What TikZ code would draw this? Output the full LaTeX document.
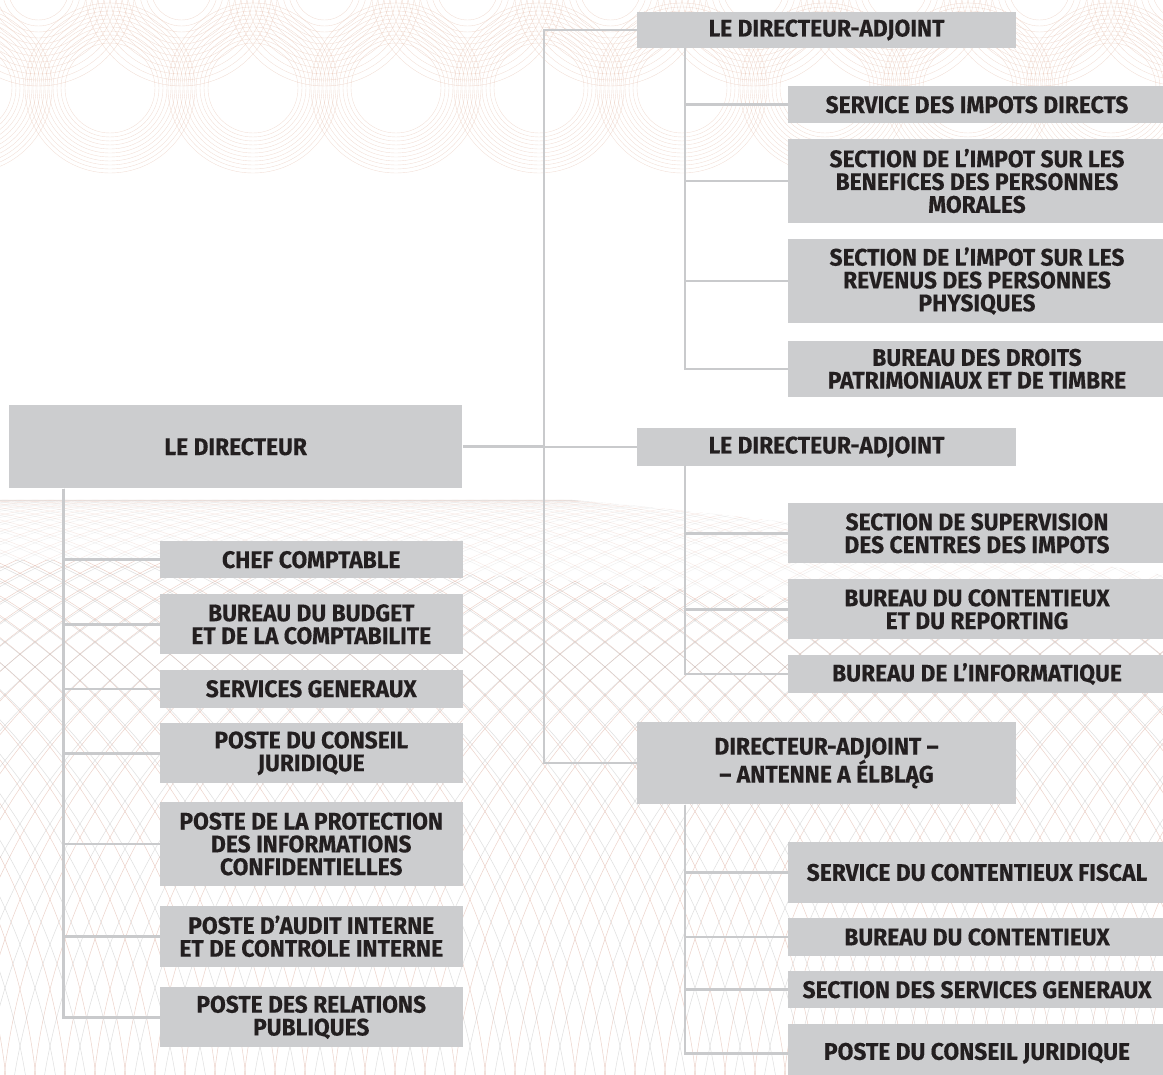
\documentclass[tikz,border=0pt]{standalone}
\usepackage{fontspec}
\newfontfamily\boxfont{Fira Sans}[UprightFont=* Bold, FakeStretch=0.95, FakeBold=0.3]
\definecolor{boxgray}{HTML}{CCCDCF}
\definecolor{linegray}{HTML}{C9CACC}
\definecolor{txt}{HTML}{231F20}
\definecolor{pinkline}{HTML}{E2B9A6}
\definecolor{latpink}{HTML}{D9A594}
\definecolor{latgray}{HTML}{BDBDBD}
\tikzset{
  unit/.style={fill=boxgray, inner sep=0pt, align=center, text=txt,
    font=\boxfont\fontsize{24}{22.8}\selectfont},
  conn/.style={draw=linegray, line width=2.5pt},
  topline/.style={draw=pinkline, line width=0.4pt, opacity=0.45},
  latp/.style={draw=latpink, line width=0.5pt},
  latg/.style={draw=latgray, line width=0.5pt},
}
\newcommand{\mylattice}{%
  \foreach \cx in {-700,-670,...,1850}{
    \draw[latp] (\cx,1150) circle[radius=650];
  }
  \foreach \cx in {-685,-655,...,1850}{
    \draw[latg] (\cx,1190) circle[radius=690];
  }
}
\begin{document}
\begin{tikzpicture}[x=1pt,y=-1pt]
\useasboundingbox (0,0) rectangle (1163,1075);
% ---------- background guilloche ----------
\begin{scope}
  \clip (0,0) rectangle (1163,178);
  \foreach \cx in {-33,110,...,1260}{
    \foreach \r in {45,49,...,85}{
      \draw[topline] (\cx,88) circle[radius=\r];
    }
  }
  \foreach \cx in {38.5,181.5,...,1260}{
    \foreach \r in {30,36,...,96}{
      \draw[topline] (\cx,-10) circle[radius=\r];
    }
  }
\end{scope}
\begin{scope}[opacity=0.22]
  \clip (0,480) .. controls (300,470) and (700,500) .. (1163,575) -- (1163,640) .. controls (700,580) and (300,560) .. (0,560) -- cycle;
  \mylattice
\end{scope}
\begin{scope}[opacity=0.5]
  \clip (0,560) .. controls (300,560) and (700,580) .. (1163,640) -- (1163,1075) -- (0,1075) -- cycle;
  \mylattice
\end{scope}
% ---------- spines ----------
\coordinate (mspine) at (544,0);
\coordinate (dspine) at (685,0);
\coordinate (lspine) at (63.6,0);
% ---------- nodes ----------
\node[unit, minimum width=453.5pt, minimum height=83.3pt] (dir) at (235.7,446.7) {LE DIRECTEUR};
\node[unit, minimum width=379pt, minimum height=36.6pt] (da1) at (826.5,30) {LE DIRECTEUR-ADJOINT};
\node[unit, minimum width=379pt, minimum height=37.4pt] (da2) at (826.5,447) {LE DIRECTEUR-ADJOINT};
\node[unit, minimum width=379pt, minimum height=82.6pt] (da3) at (826.5,763) {DIRECTEUR-ADJOINT –\\– ANTENNE A ÉLBLĄG};
% DA1 children
\node[unit, minimum width=378pt, minimum height=37.3pt] (s1) at (977,104.7) {SERVICE DES IMPOTS DIRECTS};
\node[unit, minimum width=378pt, minimum height=83.4pt] (s2) at (977,181) {SECTION DE L’IMPOT SUR LES\\BENEFICES DES PERSONNES\\MORALES};
\node[unit, minimum width=378pt, minimum height=83.4pt] (s3) at (977,281) {SECTION DE L’IMPOT SUR LES\\REVENUS DES PERSONNES\\PHYSIQUES};
\node[unit, minimum width=378pt, minimum height=56.3pt] (s4) at (977,368.9) {BUREAU DES DROITS\\PATRIMONIAUX ET DE TIMBRE};
% DA2 children
\node[unit, minimum width=378pt, minimum height=60pt] (t1) at (977,533.3) {SECTION DE SUPERVISION\\DES CENTRES DES IMPOTS};
\node[unit, minimum width=378pt, minimum height=60pt] (t2) at (977,609.3) {BUREAU DU CONTENTIEUX\\ET DU REPORTING};
\node[unit, minimum width=378pt, minimum height=37.4pt] (t3) at (977,674) {BUREAU DE L’INFORMATIQUE};
% DA3 children
\node[unit, minimum width=378pt, minimum height=60.4pt] (u1) at (977,872.5) {SERVICE DU CONTENTIEUX FISCAL};
\node[unit, minimum width=378pt, minimum height=37.4pt] (u2) at (977,937) {BUREAU DU CONTENTIEUX};
\node[unit, minimum width=378pt, minimum height=37.3pt] (u3) at (977,989.7) {SECTION DES SERVICES GENERAUX};
\node[unit, minimum width=378pt, minimum height=58pt] (u4) at (977,1053.3) {POSTE DU CONSEIL JURIDIQUE};
% Director children
\node[unit, minimum width=302.5pt, minimum height=37.3pt] (c1) at (311.25,559.7) {CHEF COMPTABLE};
\node[unit, minimum width=302.5pt, minimum height=60pt] (c2) at (311.25,624.3) {BUREAU DU BUDGET\\ET DE LA COMPTABILITE};
\node[unit, minimum width=302.5pt, minimum height=37.7pt] (c3) at (311.25,688.8) {SERVICES GENERAUX};
\node[unit, minimum width=302.5pt, minimum height=60pt] (c4) at (311.25,753.3) {POSTE DU CONSEIL\\JURIDIQUE};
\node[unit, minimum width=302.5pt, minimum height=83.4pt] (c5) at (311.25,844) {POSTE DE LA PROTECTION\\DES INFORMATIONS\\CONFIDENTIELLES};
\node[unit, minimum width=302.5pt, minimum height=60.7pt] (c6) at (311.25,936.3) {POSTE D’AUDIT INTERNE\\ET DE CONTROLE INTERNE};
\node[unit, minimum width=302.5pt, minimum height=60pt] (c7) at (311.25,1017.3) {POSTE DES RELATIONS\\PUBLIQUES};
% ---------- connectors ----------
\draw[conn] (dir.east) -- (dir.east -| mspine);
\draw[conn] (da1.west) -- (da1.west -| mspine) -- (da3.west -| mspine) -- (da3.west);
\draw[conn] (da2.west) -- (da2.west -| mspine);
\foreach \k in {s1,s2,s3,s4}{ \draw[conn] (da1.south -| dspine) |- (\k.west); }
\foreach \k in {t1,t2,t3}{ \draw[conn] (da2.south -| dspine) |- (\k.west); }
\foreach \k in {u1,u2,u3,u4}{ \draw[conn] (da3.south -| dspine) |- (\k.west); }
\foreach \k in {c1,c2,c3,c4,c5,c6,c7}{ \draw[conn] (dir.south -| lspine) |- (\k.west); }
\end{tikzpicture}
\end{document}
